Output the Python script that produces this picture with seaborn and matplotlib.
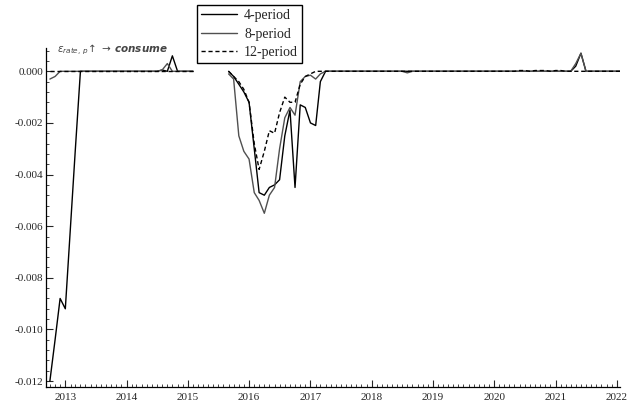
import numpy as np
import pandas as pd
import matplotlib
matplotlib.use("Agg")
import matplotlib.pyplot as plt
import matplotlib.dates as mdates
from matplotlib.ticker import MultipleLocator, FuncFormatter
from matplotlib.lines import Line2D
import seaborn as sns

# ================================
# DATA (monthly, Oct 2012 - Feb 2022)
# ================================
dates = pd.date_range("2012-10-01", "2022-02-01", freq="MS")
nan = np.nan

# 4-period response
p4 = [
    -0.0120, -0.0104, -0.0088,                                                    # 2012 Oct-Dec
    -0.0092, -0.0060, -0.0031, 0, 0, 0, 0, 0, 0, 0, 0, 0,                         # 2013
    0, 0, 0, 0, 0, 0, 0, 0.00005, 0.0, 0.0006, 0, 0,                              # 2014
    0, 0, nan, nan, nan, nan, nan, nan, 0.0, -0.0002, -0.0005, -0.0008,           # 2015
    -0.0012, -0.0030, -0.0047, -0.0048, -0.0045, -0.0044, -0.0042, -0.0025,
    -0.0015, -0.0045, -0.0013, -0.0014,                                           # 2016
    -0.0020, -0.0021, -0.0004, 0, 0, 0, 0, 0, 0, 0, 0, 0,                         # 2017
    0, 0, 0, 0, 0, 0, 0, 0, 0, 0, 0, 0,                                           # 2018
    0, 0, 0, 0, 0, 0, 0, 0, 0, 0, 0, 0,                                           # 2019
    0, 0, 0, 0, 0, 0, 0, 0, 0, 0, 0, 0,                                           # 2020
    0, 0, 0, 0, 0.0002, 0.0007, 0, 0, 0, 0, 0, 0,                                 # 2021
    0, 0,                                                                         # 2022
]

# 8-period response
p8 = [
    -0.0003, -0.0002, 0.0,
    0, 0, 0, 0, 0, 0, 0, 0, 0, 0, 0, 0,
    0, 0, 0, 0, 0, 0, 0, 0.00005, 0.0003, 0.0, 0, 0,
    0, 0, nan, nan, nan, nan, nan, nan, -0.0001, -0.0003, -0.0025, -0.0031,
    -0.0034, -0.0047, -0.0050, -0.0055, -0.0048, -0.0045, -0.0030, -0.0018,
    -0.0014, -0.0017, -0.0004, -0.0002,
    -0.00015, -0.0003, -0.0001, 0, 0, 0, 0, 0, 0, 0, 0, 0,
    0, 0, 0, 0, 0, 0, 0, -0.00006, 0, 0, 0, 0,
    0, 0, 0, 0, 0, 0, 0, 0, 0, 0, 0, 0,
    0, 0, 0, 0, 0, 0, 0, 0, 0, 0, 0, 0,
    0, 0, 0, 0, 0.0003, 0.0007, 0, 0, 0, 0, 0, 0,
    0, 0,
]

# 12-period response
p12 = [
    0.0, 0.0, 0.0,
    0, 0, 0, 0, 0, 0, 0, 0, 0, 0, 0, 0,
    0, 0, 0, 0, 0, 0, 0, 0, 0, 0, 0, 0,
    0, 0, nan, nan, nan, nan, nan, nan, 0.0, -0.0002, -0.0004, -0.0007,
    -0.0012, -0.0028, -0.0038, -0.0031, -0.0023, -0.0024, -0.0016, -0.0010,
    -0.0012, -0.0012, -0.0005, -0.0002,
    -0.0001, 0, 0, 0, 0, 0, 0, 0, 0, 0, 0, 0,
    0, 0, 0, 0, 0, 0, 0, 0, 0, 0, 0, 0,
    0, 0, 0, 0, 0, 0, 0, 0, 0, 0, 0, 0,
    0, 0, 0, 0, 0, 0.00003, 0.00003, 0, 0.00003, 0.00003, 0.00003, 0,
    0.00003, 0.00003, 0, 0, 0, 0, 0, 0, 0, 0, 0, 0,
    0, 0,
]

series_names = ["4-period", "8-period", "12-period"]
series_vals = [p4, p8, p12]

rows = []
for name, vals in zip(series_names, series_vals):
    v = pd.Series(vals, dtype=float)
    seg = v.isna().cumsum()  # break the line where data is missing
    rows.append(pd.DataFrame({"date": dates, "value": v, "series": name, "seg": seg}))
df = pd.concat(rows).dropna()

# ================================
# PLOT
# ================================
sns.set_style("ticks")
plt.rcParams["font.family"] = ["Liberation Serif", "DejaVu Serif"]

fig = plt.figure(figsize=(6.27, 4.03), dpi=100)
ax = fig.add_axes([0.0734, 0.0397, 0.9155, 0.841])

palette = {"4-period": "black", "8-period": "#505050", "12-period": "black"}
dashes = {"4-period": "", "8-period": "", "12-period": (3, 2)}

sns.lineplot(data=df, x="date", y="value", hue="series", style="series",
             units="seg", estimator=None, palette=palette, dashes=dashes,
             linewidth=1.0, legend=False, ax=ax)

ax.set_xlim(pd.Timestamp("2012-09-08"), pd.Timestamp("2022-01-20"))
ax.set_ylim(-0.01223, 0.0009)
ax.set_xlabel("")
ax.set_ylabel("")

ax.xaxis.set_major_locator(mdates.YearLocator())
ax.xaxis.set_major_formatter(mdates.DateFormatter("%Y"))
ax.xaxis.set_minor_locator(mdates.MonthLocator())
ax.yaxis.set_major_locator(MultipleLocator(0.002))
ax.yaxis.set_minor_locator(MultipleLocator(0.0004))
ax.yaxis.set_major_formatter(FuncFormatter(lambda v, p: f"{v:.3f}" if abs(v) > 1e-9 else "0.000"))

ax.tick_params(which="major", direction="in", length=5, width=0.8, labelsize=8, pad=2)
ax.tick_params(axis="x", which="major", pad=4)
ax.tick_params(which="minor", direction="in", length=2.5, width=0.6)
for s in ["top", "right"]:
    ax.spines[s].set_visible(False)
for s in ["left", "bottom"]:
    ax.spines[s].set_linewidth(0.9)
    ax.spines[s].set_color("black")

fig.text(57 / 627, 1 - 50 / 403, r"$\epsilon_{rate,\,p}\!\uparrow\,\rightarrow\,\mathbfit{consume}$",
         fontsize=7.5, color="#444444", va="center", ha="left")

handles = [Line2D([], [], color="black", lw=1.0),
           Line2D([], [], color="#505050", lw=1.0),
           Line2D([], [], color="black", lw=1.0, ls=(0, (3, 2)))]
fig.legend(handles, series_names, loc="upper left",
           bbox_to_anchor=(197 / 627, 1 - 5 / 403), fontsize=10,
           frameon=True, fancybox=False, edgecolor="black", framealpha=1,
           handlelength=2.6, handletextpad=0.5, borderpad=0.3,
           labelspacing=0.4, borderaxespad=0)

plt.savefig("out.png", dpi=100)
plt.close()
